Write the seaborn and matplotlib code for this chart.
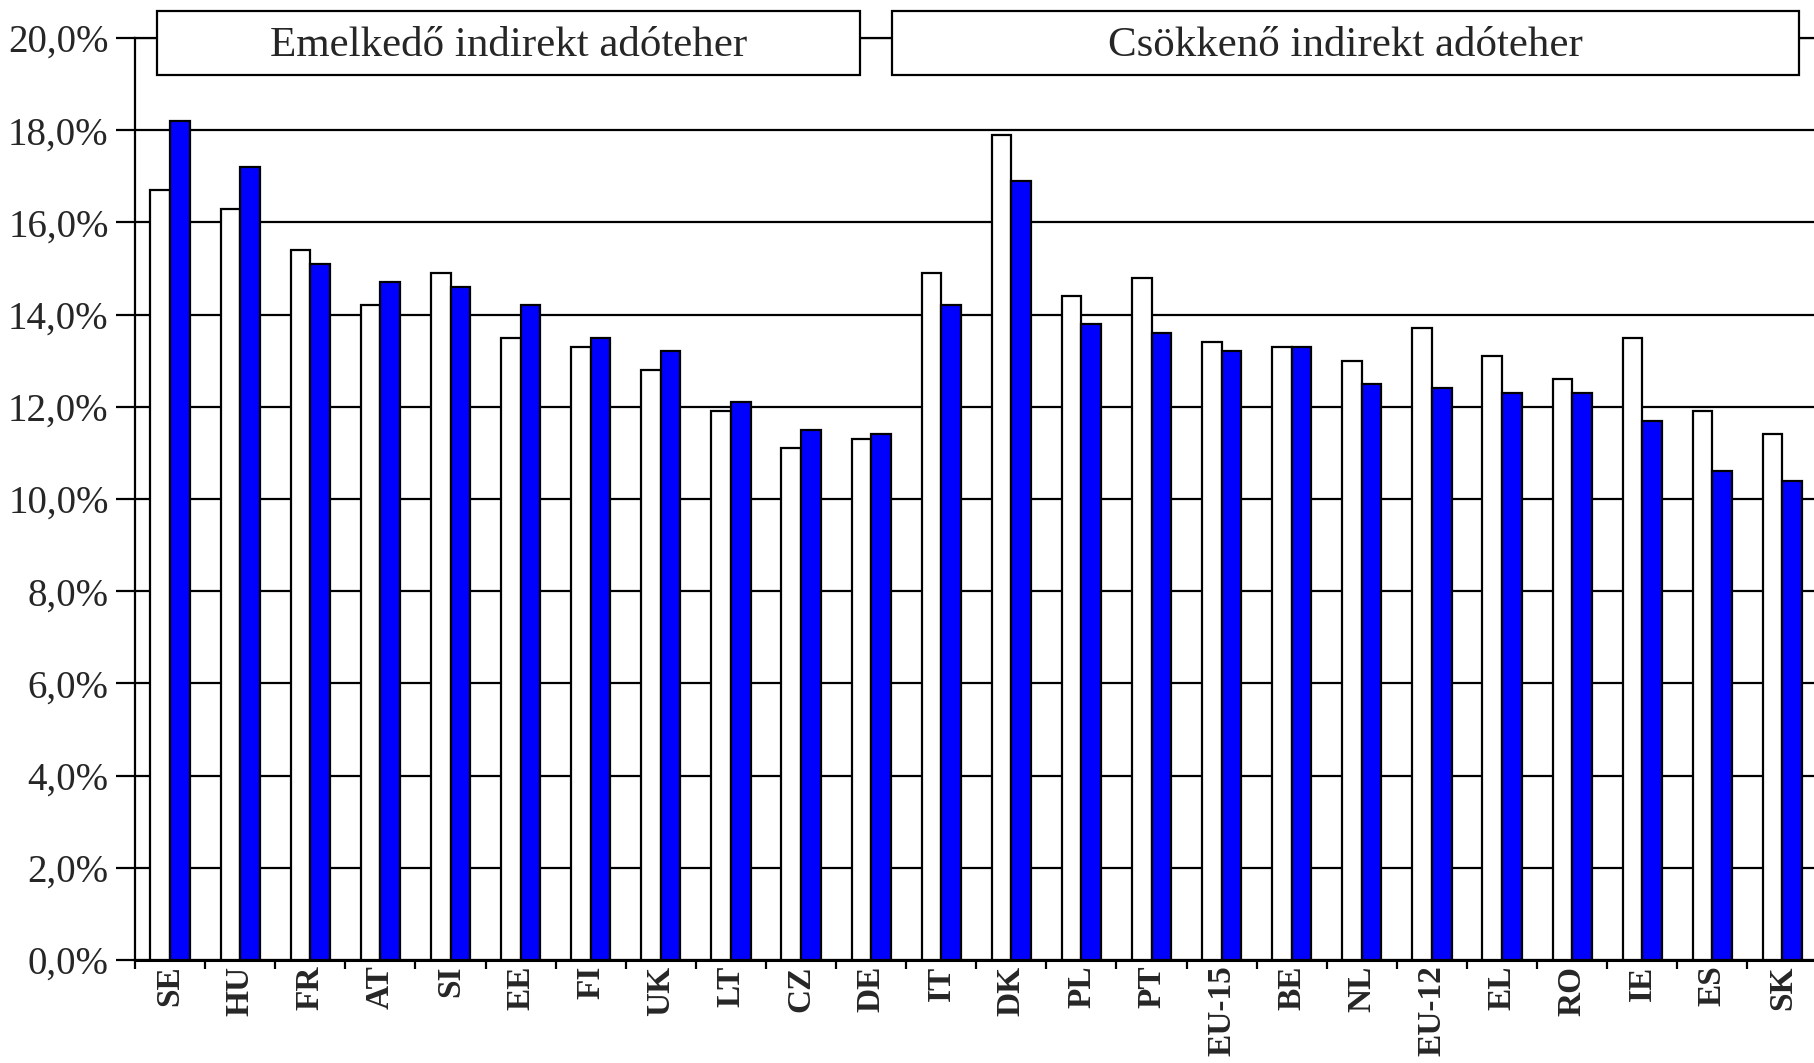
import pandas as pd
import numpy as np
import seaborn as sns
from matplotlib import pyplot as plt
from matplotlib.patches import Rectangle
from matplotlib.transforms import blended_transform_factory

# adatok (%)
orszagok = ["SE", "HU", "FR", "AT", "SI", "EE", "FI", "UK", "LT", "CZ", "DE",
            "IT", "DK", "PL", "PT", "EU-15", "BE", "NL", "EU-12", "EL", "RO", "IE", "ES", "SK"]
elso_ev = [16.7, 16.3, 15.4, 14.2, 14.9, 13.5, 13.3, 12.8, 11.9, 11.1, 11.3,
           14.9, 17.9, 14.4, 14.8, 13.4, 13.3, 13.0, 13.7, 13.1, 12.6, 13.5, 11.9, 11.4]
masodik_ev = [18.2, 17.2, 15.1, 14.7, 14.6, 14.2, 13.5, 13.2, 12.1, 11.5, 11.4,
              14.2, 16.9, 13.8, 13.6, 13.2, 13.3, 12.5, 12.4, 12.3, 12.3, 11.7, 10.6, 10.4]
y_ertekek = [0, 2, 4, 6, 8, 10, 12, 14, 16, 18, 20]
y_cimkek = ["0,0%", "2,0%", "4,0%", "6,0%", "8,0%", "10,0%",
            "12,0%", "14,0%", "16,0%", "18,0%", "20,0%"]
csoport_cimkek = ["Emelkedő indirekt adóteher", "Csökkenő indirekt adóteher"]

sns.set_style("white")
plt.rcParams['font.family'] = ['Liberation Serif', 'DejaVu Serif']

df = pd.DataFrame({
    "orszag": orszagok * 2,
    "ertek": elso_ev + masodik_ev,
    "sorozat": ["1"] * len(orszagok) + ["2"] * len(orszagok),
})

fig = plt.figure(figsize=(18.15, 10.63), dpi=100)
ax = fig.add_axes([0.0744, 0.0969, 0.927, 0.8674])

sns.barplot(ax=ax, data=df, x="orszag", y="ertek", hue="sorozat",
            palette=["white", "#0000FF"], saturation=1, width=0.56,
            edgecolor="black", linewidth=1.6, legend=False, zorder=3)

ax.set_xlim(-0.5, len(orszagok) - 0.5)
ax.set_ylim(0, 20)
ax.set_xlabel("")
ax.set_ylabel("")

# rács
ax.set_axisbelow(True)
ax.yaxis.grid(True, color="black", linewidth=1.6)
ax.xaxis.grid(False)

for s in ["left", "bottom", "top"]:
    ax.spines[s].set_visible(True)
    ax.spines[s].set_color("black")
ax.spines["right"].set_visible(False)
ax.spines["left"].set_linewidth(1.6)
ax.spines["top"].set_linewidth(1.6)
ax.spines["bottom"].set_linewidth(2.2)

ax.set_yticks(y_ertekek)
ax.set_yticklabels(y_cimkek, fontsize=28)
ax.tick_params(axis="y", which="major", direction="out", length=14, width=1.6,
               color="black", pad=5, left=True)

ax.set_xticks(range(len(orszagok)))
ax.set_xticklabels(orszagok, rotation=90, fontsize=24, fontweight="bold", va="top")
ax.tick_params(axis="x", which="major", length=0, pad=4)
ax.set_xticks(np.arange(-0.5, len(orszagok), 1), minor=True)
ax.tick_params(axis="x", which="minor", direction="out", length=6.5, width=1.6,
               color="black", bottom=True)

# csoport dobozok
trans = blended_transform_factory(ax.transAxes, ax.transData)
dobozok = [(0.0131, 0.431), (0.4497, 0.989)]
for (x0, x1), cimke in zip(dobozok, csoport_cimkek):
    ax.add_patch(Rectangle((x0, 19.2), x1 - x0, 1.38, transform=trans,
                           facecolor="white", edgecolor="black", linewidth=1.6,
                           clip_on=False, zorder=5))
    ax.text((x0 + x1) / 2, 19.82, cimke, transform=trans, ha="center", va="center",
            fontsize=31, zorder=6, clip_on=False)

fig.savefig("out.png", dpi=100)
